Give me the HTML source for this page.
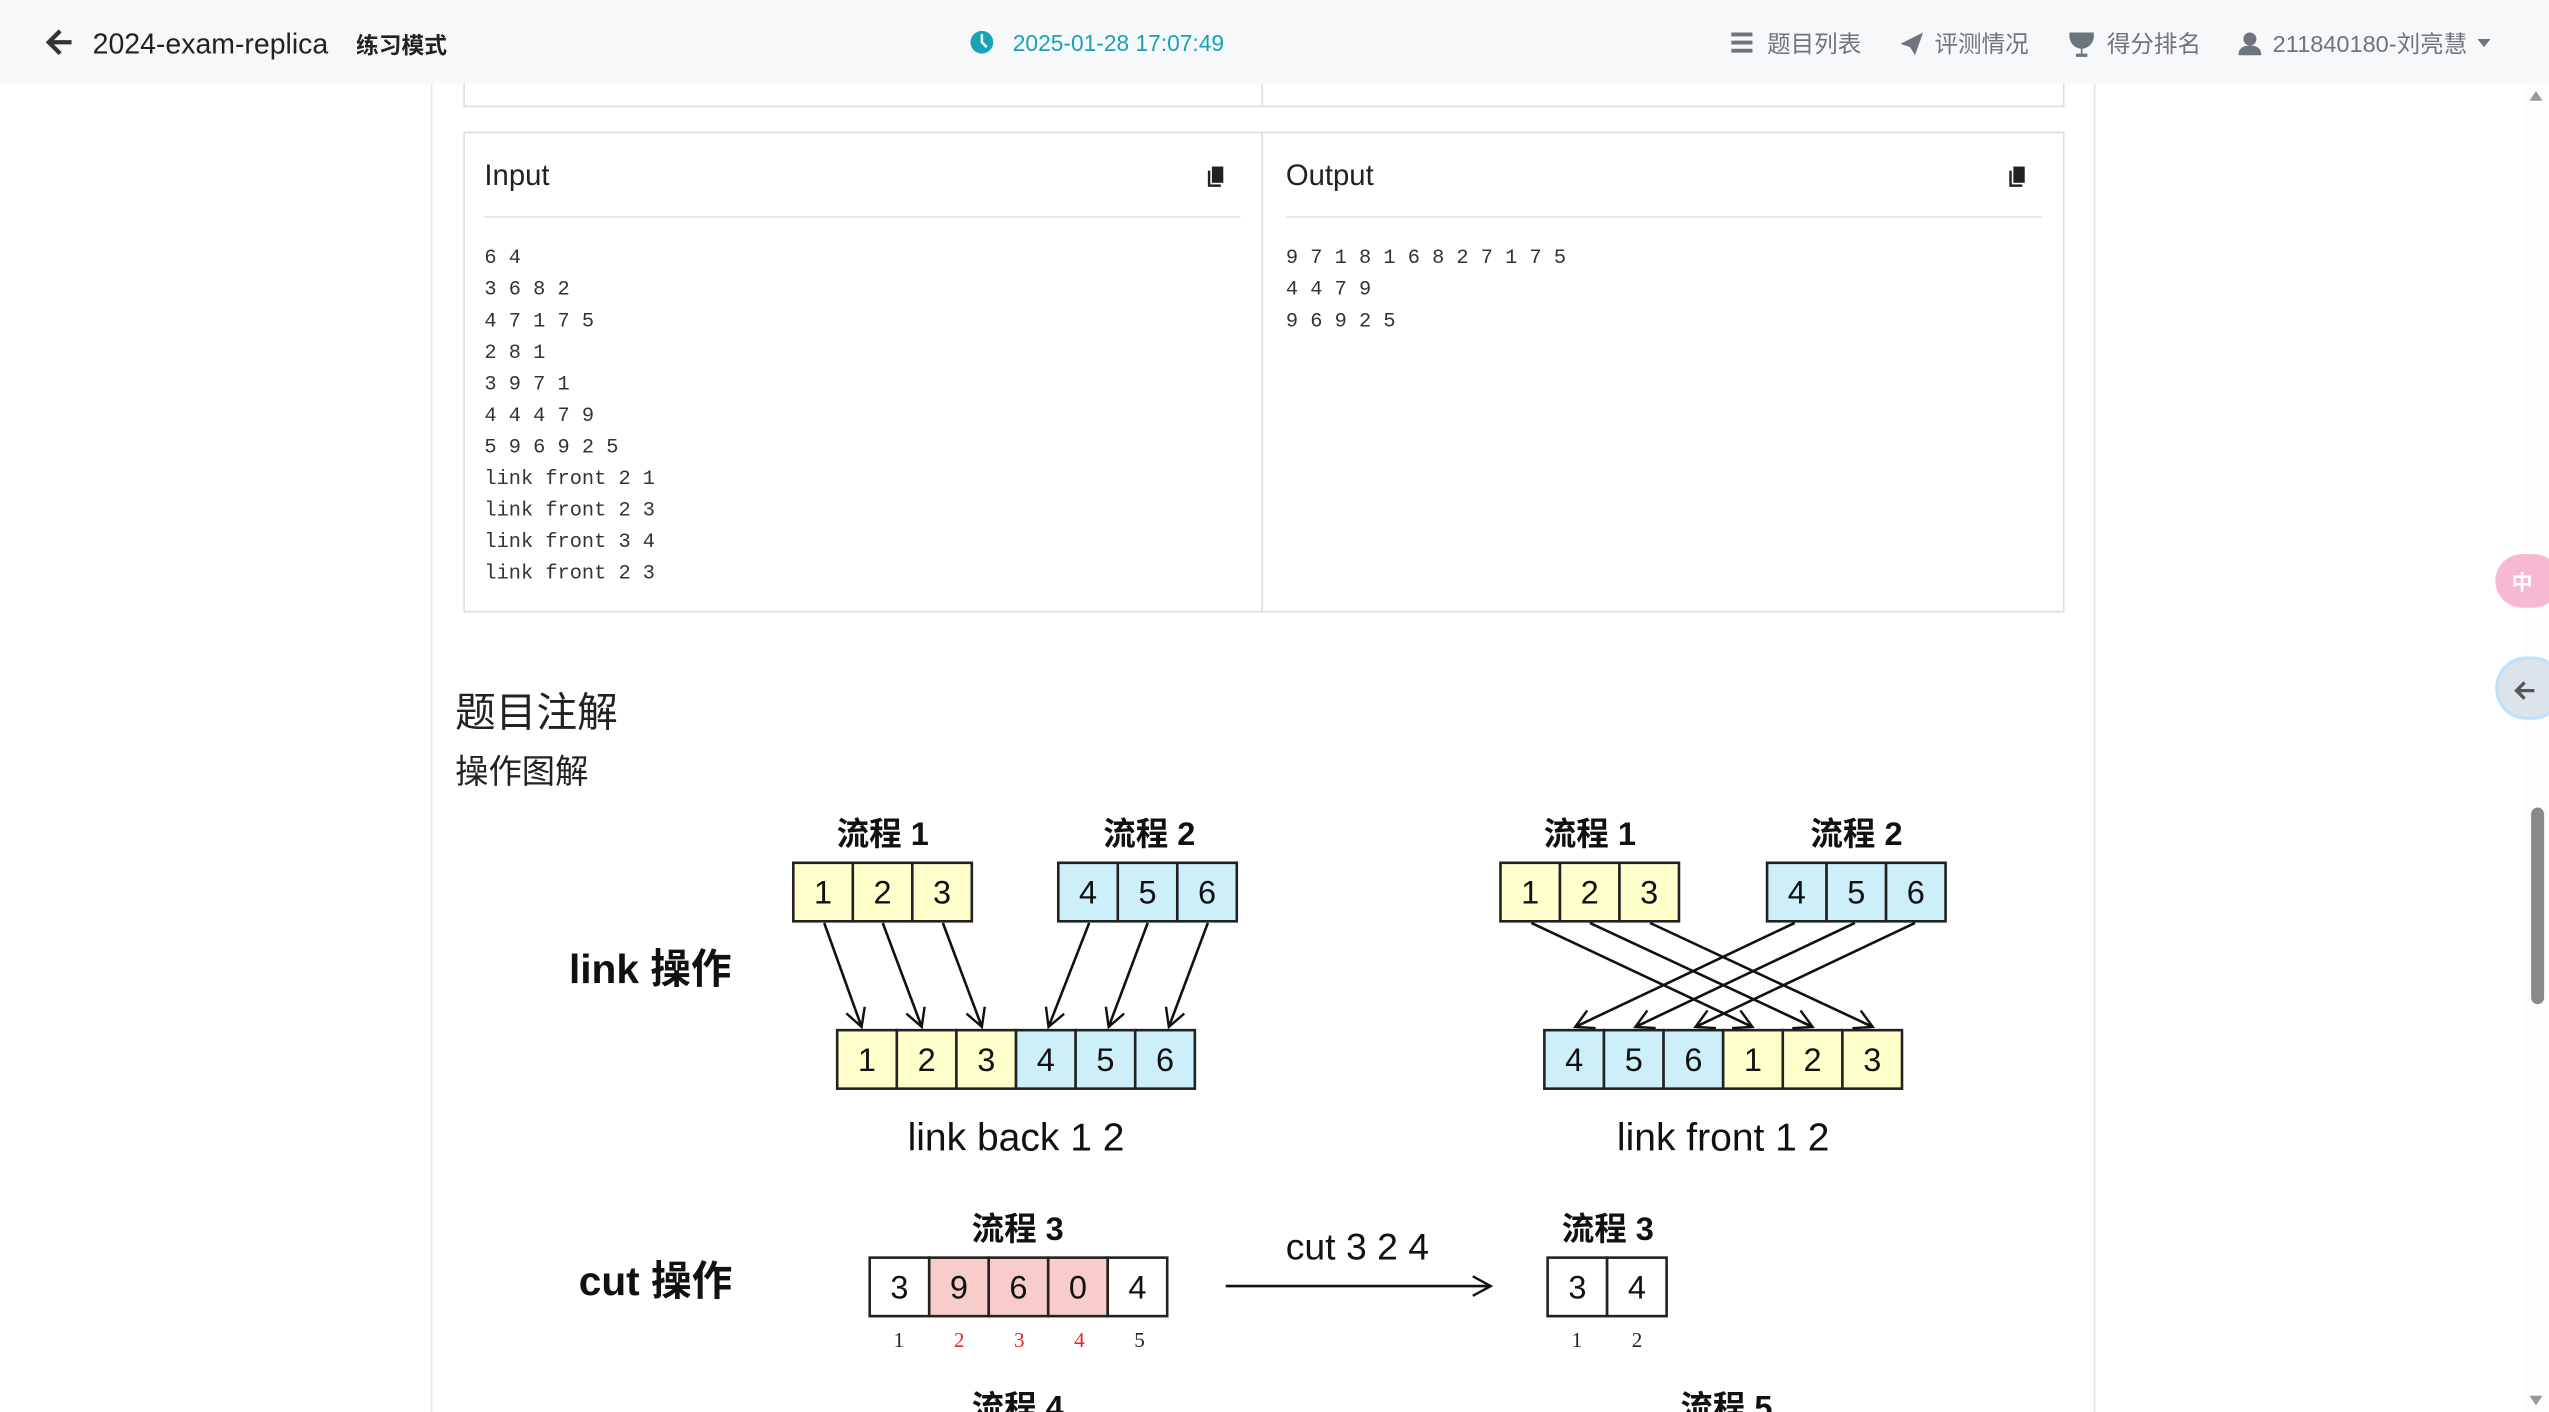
<!DOCTYPE html>
<html><head><meta charset="utf-8"><style>
html,body{margin:0;padding:0;background:#fff;overflow:hidden}
svg{display:block}
text{font-family:"Liberation Sans","Noto Sans CJK SC",sans-serif}
.mono{font-family:"Liberation Mono","DejaVu Sans Mono",monospace;font-size:12.5px;fill:#333}
.c{stroke:#222;stroke-width:1.6}
.n{font-size:20px;fill:#111;text-anchor:middle}
.lbl{font-size:20px;fill:#111;text-anchor:middle;font-weight:bold}
.idx{font-family:"Liberation Serif",serif;font-size:13px;text-anchor:middle}
.nav{font-size:14.5px;fill:#6c757d}
</style></head><body>
<svg width="2549" height="1412" viewBox="0 0 1568 869" preserveAspectRatio="none" xmlns="http://www.w3.org/2000/svg">
<defs>
<marker id="ah" markerWidth="14" markerHeight="14" refX="12" refY="7" orient="auto" markerUnits="userSpaceOnUse">
<path d="M1,1 L12,7 L1,13" fill="none" stroke="#111" stroke-width="1.5"/>
</marker>
</defs>
<!-- header -->
<rect x="0" y="0" width="1568" height="52" fill="#f7f8fa"/>
<path d="M44,26 H31 M37,19 L30,26 L37,33" stroke="#333" stroke-width="2.6" fill="none"/>
<text x="57" y="33" font-size="17.5" fill="#222">2024-exam-replica</text>
<text x="219" y="33" font-size="14" font-weight="bold" fill="#222">练习模式</text>
<circle cx="604" cy="26" r="7" fill="#17a2b8"/>
<path d="M604,21 V26 L607,29" stroke="#fff" stroke-width="1.5" fill="none"/>
<text x="623" y="31.5" font-size="14" fill="#17a2b8">2025-01-28 17:07:49</text>
<rect x="1065" y="20" width="13" height="2.4" fill="#6c757d"/><rect x="1065" y="25" width="13" height="2.4" fill="#6c757d"/><rect x="1065" y="30" width="13" height="2.4" fill="#6c757d"/>
<text x="1087" y="32" class="nav">题目列表</text>
<path d="M1169,27 L1183,20 L1178,34 L1175,29 Z" fill="#6c757d"/>
<text x="1190" y="32" class="nav">评测情况</text>
<path d="M1273,20 H1288 V23 Q1287,29 1281,30 V33 H1284 V35 H1277 V33 H1280 V30 Q1274,29 1273,23 Z" fill="#6c757d"/>
<text x="1296" y="32" class="nav">得分排名</text>
<circle cx="1384" cy="24" r="4" fill="#6c757d"/><path d="M1377,34 Q1377,28 1384,28 Q1391,28 1391,34 Z" fill="#6c757d"/>
<text x="1398" y="32" class="nav">211840180-刘亮慧</text>
<path d="M1524,24 L1532,24 L1528,29 Z" fill="#6c757d"/>
<!-- page columns -->
<line x1="265.5" y1="52" x2="265.5" y2="869" stroke="#e6e6e6"/>
<line x1="1288.5" y1="52" x2="1288.5" y2="869" stroke="#e6e6e6"/>
<!-- top box remnant -->
<path d="M285.5,52 V65.5 H1269.5 V52 M776.5,52 V65.5" stroke="#ddd" fill="none"/>
<!-- input/output box -->
<rect x="285.5" y="81.5" width="984" height="295" fill="none" stroke="#ddd"/>
<line x1="776.5" y1="81.5" x2="776.5" y2="376.5" stroke="#ddd"/>
<text x="298" y="114" font-size="18" fill="#222">Input</text>
<text x="791" y="114" font-size="18" fill="#222">Output</text>
<line x1="298" y1="133.5" x2="763" y2="133.5" stroke="#e3e3e3"/>
<line x1="791" y1="133.5" x2="1256" y2="133.5" stroke="#e3e3e3"/>
<g fill="#222"><rect x="743" y="105" width="8" height="10"/><rect x="745" y="102" width="8" height="11" stroke="#fff" stroke-width="1"/></g>
<g fill="#222"><rect x="1236" y="105" width="8" height="10"/><rect x="1238" y="102" width="8" height="11" stroke="#fff" stroke-width="1"/></g>
<g class="mono">
<text x="298" y="162" class="mono">6 4</text>
<text x="298" y="181.4" class="mono">3 6 8 2</text>
<text x="298" y="200.8" class="mono">4 7 1 7 5</text>
<text x="298" y="220.2" class="mono">2 8 1</text>
<text x="298" y="239.6" class="mono">3 9 7 1</text>
<text x="298" y="259" class="mono">4 4 4 7 9</text>
<text x="298" y="278.4" class="mono">5 9 6 9 2 5</text>
<text x="298" y="297.8" class="mono">link front 2 1</text>
<text x="298" y="317.2" class="mono">link front 2 3</text>
<text x="298" y="336.6" class="mono">link front 3 4</text>
<text x="298" y="356" class="mono">link front 2 3</text>
<text x="791" y="162" class="mono">9 7 1 8 1 6 8 2 7 1 7 5</text>
<text x="791" y="181.4" class="mono">4 4 7 9</text>
<text x="791" y="200.8" class="mono">9 6 9 2 5</text>
</g>
<text x="280" y="447" font-size="25" fill="#222">题目注解</text>
<text x="280" y="482" font-size="20.5" fill="#222">操作图解</text>
<!-- diagram -->
<text x="350" y="605" font-size="25" fill="#111" font-weight="bold">link 操作</text>
<text x="356" y="797" font-size="25" fill="#111" font-weight="bold">cut 操作</text>
<text x="543" y="520" class="lbl">流程 1</text>
<text x="707" y="520" class="lbl">流程 2</text>
<text x="978" y="520" class="lbl">流程 1</text>
<text x="1142" y="520" class="lbl">流程 2</text>
<g class="c">
<rect x="488" y="531" width="36.6" height="36" fill="#ffffcc"/><rect x="524.6" y="531" width="36.6" height="36" fill="#ffffcc"/><rect x="561.2" y="531" width="36.6" height="36" fill="#ffffcc"/>
<rect x="651" y="531" width="36.6" height="36" fill="#cdeffa"/><rect x="687.6" y="531" width="36.6" height="36" fill="#cdeffa"/><rect x="724.2" y="531" width="36.6" height="36" fill="#cdeffa"/>
<rect x="515" y="634" width="36.67" height="36" fill="#ffffcc"/><rect x="551.67" y="634" width="36.67" height="36" fill="#ffffcc"/><rect x="588.33" y="634" width="36.67" height="36" fill="#ffffcc"/>
<rect x="625" y="634" width="36.67" height="36" fill="#cdeffa"/><rect x="661.67" y="634" width="36.67" height="36" fill="#cdeffa"/><rect x="698.33" y="634" width="36.67" height="36" fill="#cdeffa"/>
<rect x="923" y="531" width="36.6" height="36" fill="#ffffcc"/><rect x="959.6" y="531" width="36.6" height="36" fill="#ffffcc"/><rect x="996.2" y="531" width="36.6" height="36" fill="#ffffcc"/>
<rect x="1087" y="531" width="36.6" height="36" fill="#cdeffa"/><rect x="1123.6" y="531" width="36.6" height="36" fill="#cdeffa"/><rect x="1160.2" y="531" width="36.6" height="36" fill="#cdeffa"/>
<rect x="950" y="634" width="36.67" height="36" fill="#cdeffa"/><rect x="986.67" y="634" width="36.67" height="36" fill="#cdeffa"/><rect x="1023.33" y="634" width="36.67" height="36" fill="#cdeffa"/>
<rect x="1060" y="634" width="36.67" height="36" fill="#ffffcc"/><rect x="1096.67" y="634" width="36.67" height="36" fill="#ffffcc"/><rect x="1133.33" y="634" width="36.67" height="36" fill="#ffffcc"/>
<rect x="535" y="774" width="36.6" height="36" fill="#fff"/><rect x="571.6" y="774" width="36.6" height="36" fill="#f9cccc"/><rect x="608.2" y="774" width="36.6" height="36" fill="#f9cccc"/><rect x="644.8" y="774" width="36.6" height="36" fill="#f9cccc"/><rect x="681.4" y="774" width="36.6" height="36" fill="#fff"/>
<rect x="952" y="774" width="36.6" height="36" fill="#fff"/><rect x="988.6" y="774" width="36.6" height="36" fill="#fff"/>
</g>
<g class="n">
<text x="506.3" y="556" class="n">1</text><text x="542.9" y="556" class="n">2</text><text x="579.5" y="556" class="n">3</text>
<text x="669.3" y="556" class="n">4</text><text x="705.9" y="556" class="n">5</text><text x="742.5" y="556" class="n">6</text>
<text x="533.3" y="659" class="n">1</text><text x="570" y="659" class="n">2</text><text x="606.7" y="659" class="n">3</text><text x="643.3" y="659" class="n">4</text><text x="680" y="659" class="n">5</text><text x="716.7" y="659" class="n">6</text>
<text x="941.3" y="556" class="n">1</text><text x="977.9" y="556" class="n">2</text><text x="1014.5" y="556" class="n">3</text>
<text x="1105.3" y="556" class="n">4</text><text x="1141.9" y="556" class="n">5</text><text x="1178.5" y="556" class="n">6</text>
<text x="968.3" y="659" class="n">4</text><text x="1005" y="659" class="n">5</text><text x="1041.7" y="659" class="n">6</text><text x="1078.3" y="659" class="n">1</text><text x="1115" y="659" class="n">2</text><text x="1151.7" y="659" class="n">3</text>
<text x="553.3" y="799" class="n">3</text><text x="589.9" y="799" class="n">9</text><text x="626.5" y="799" class="n">6</text><text x="663.1" y="799" class="n">0</text><text x="699.7" y="799" class="n">4</text>
<text x="970.3" y="799" class="n">3</text><text x="1006.9" y="799" class="n">4</text>
</g>
<g stroke="#111" stroke-width="1.6" fill="none" marker-end="url(#ah)">
<line x1="507" y1="568" x2="530" y2="632"/><line x1="543" y1="568" x2="567" y2="632"/><line x1="580" y1="568" x2="604" y2="632"/>
<line x1="670" y1="568" x2="645" y2="632"/><line x1="706" y1="568" x2="682" y2="632"/><line x1="743" y1="568" x2="719" y2="632"/>
<line x1="942" y1="568" x2="1078" y2="632"/><line x1="978" y1="568" x2="1115" y2="632"/><line x1="1015" y1="568" x2="1152" y2="632"/>
<line x1="1104" y1="568" x2="969" y2="632"/><line x1="1141" y1="568" x2="1006" y2="632"/><line x1="1178" y1="568" x2="1043" y2="632"/>
<line x1="754" y1="791.5" x2="917" y2="791.5"/>
</g>
<text x="625" y="708" font-size="24" fill="#111" text-anchor="middle">link back 1 2</text>
<text x="1060" y="708" font-size="24" fill="#111" text-anchor="middle">link front 1 2</text>
<text x="835" y="775" font-size="23" fill="#111" text-anchor="middle">cut 3 2 4</text>
<text x="626" y="763" class="lbl">流程 3</text>
<text x="989" y="763" class="lbl">流程 3</text>
<text x="626" y="873" class="lbl">流程 4</text>
<text x="1062" y="873" class="lbl">流程 5</text>
<text x="553" y="829" class="idx" fill="#222">1</text><text x="590" y="829" class="idx" fill="#e22">2</text><text x="627" y="829" class="idx" fill="#e22">3</text><text x="664" y="829" class="idx" fill="#e22">4</text><text x="701" y="829" class="idx" fill="#222">5</text>
<text x="970" y="829" class="idx" fill="#222">1</text><text x="1007" y="829" class="idx" fill="#222">2</text>
<!-- scrollbar -->
<rect x="1553" y="52" width="15" height="817" fill="#fdfdfd"/>
<path d="M1556,62 L1564,62 L1560,56 Z" fill="#999"/>
<path d="M1556,859 L1564,859 L1560,865 Z" fill="#999"/>
<rect x="1557" y="497" width="8" height="121" rx="4" fill="#8a8a8a"/>
<!-- floating buttons -->
<rect x="1535" y="341" width="40" height="33" rx="16.5" fill="#f6b8d2"/>
<text x="1545" y="363" font-size="13" fill="#fff" font-weight="bold">中</text>
<rect x="1536" y="405" width="40" height="37" rx="18" fill="#dde3ea" stroke="#bfe0ff" stroke-width="2"/>
<path d="M1559,425 H1548 M1553,420 L1548,425 L1553,430" stroke="#555" stroke-width="2" fill="none"/>
</svg>
</body></html>
